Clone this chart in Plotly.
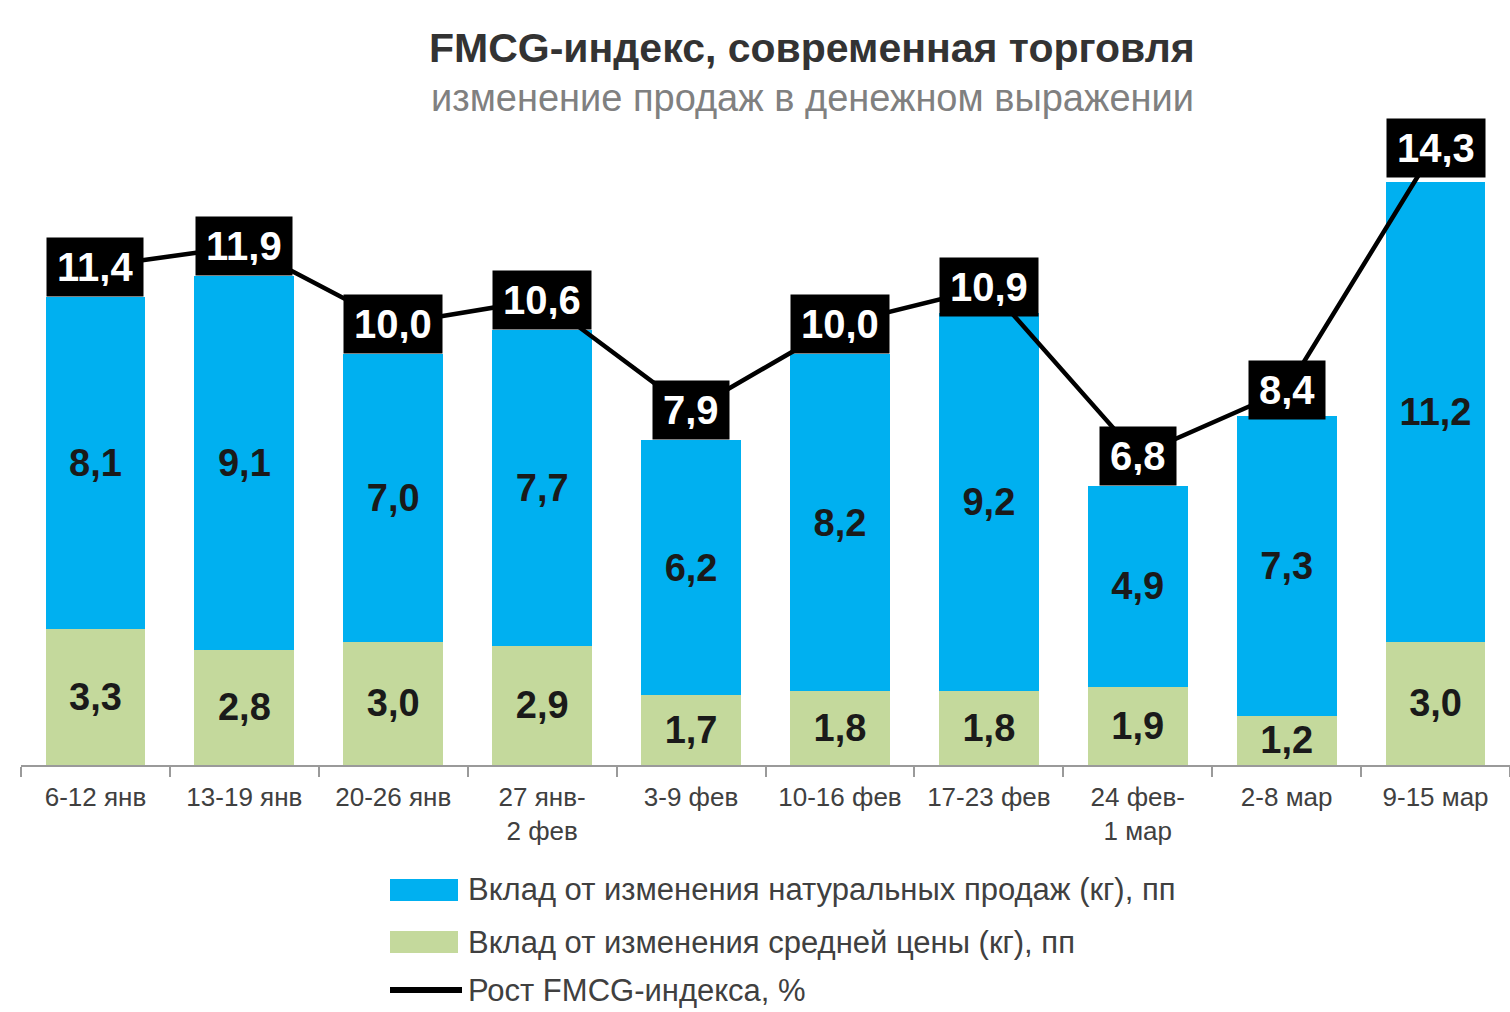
import plotly.graph_objects as go

# ---- data ----
categories = ["6-12 янв", "13-19 янв", "20-26 янв", "27 янв-<br>2 фев", "3-9 фев",
              "10-16 фев", "17-23 фев", "24 фев-<br>1 мар", "2-8 мар", "9-15 мар"]
price_contrib = [3.3, 2.8, 3.0, 2.9, 1.7, 1.8, 1.8, 1.9, 1.2, 3.0]
volume_contrib = [8.1, 9.1, 7.0, 7.7, 6.2, 8.2, 9.2, 4.9, 7.3, 11.2]
index_growth = [11.4, 11.9, 10.0, 10.6, 7.9, 10.0, 10.9, 6.8, 8.4, 14.3]

series_names = ["Вклад от изменения натуральных продаж (кг), пп",
                "Вклад от изменения средней цены (кг), пп",
                "Рост FMCG-индекса, %"]
title_text = "FMCG-индекс, современная торговля"
subtitle_text = "изменение продаж в денежном выражении"

BLUE = "#00B0F0"
GREEN = "#C4D99C"
FONT = "Liberation Sans, Arial, sans-serif"

W, H = 1510, 1012
ML, MR, MT, MB = 21, 0, 120, 247
plot_h = H - MT - MB
plot_w = W - ML - MR
Y_MAX = 15.7
LINE_OFFSET = 0.73


def fmt(v):
    return f"{v:.1f}".replace(".", ",")


def px_x(X):
    return (X - ML) / plot_w


def px_y(Y):
    return (H - MB - Y) / plot_h


fig = go.Figure()

fig.add_trace(go.Bar(
    x=categories, y=price_contrib, name=series_names[1],
    marker=dict(color=GREEN, line=dict(width=0)),
    text=[f"<b>{fmt(v)}</b>" for v in price_contrib], textposition="inside",
    insidetextanchor="middle", textangle=0,
    textfont=dict(family=FONT, size=38, color="#1a1a1a"),
    showlegend=False,
))
fig.add_trace(go.Bar(
    x=categories, y=volume_contrib, name=series_names[0],
    marker=dict(color=BLUE, line=dict(width=0)),
    text=[f"<b>{fmt(v)}</b>" for v in volume_contrib], textposition="inside",
    insidetextanchor="middle", textangle=0,
    textfont=dict(family=FONT, size=38, color="#1a1a1a"),
    showlegend=False,
))
fig.add_trace(go.Scatter(
    x=categories, y=index_growth, name=series_names[2], mode="lines",
    line=dict(color="black", width=4.5), yaxis="y2", showlegend=False,
))

# black value boxes on the line
for c, v in zip(categories, index_growth):
    fig.add_annotation(
        x=c, y=v, xref="x", yref="y2", text=f"<b>{fmt(v)}</b>",
        showarrow=False, bgcolor="black", height=38, borderpad=10,
        font=dict(family=FONT, size=40, color="white"),
        xanchor="center", yanchor="middle",
    )

# titles
fig.add_annotation(x=px_x(812), y=px_y(48), xref="paper", yref="paper",
                   text=f"<b>{title_text}</b>", showarrow=False,
                   font=dict(family=FONT, size=41, color="#333333"),
                   xanchor="center", yanchor="middle")
fig.add_annotation(x=px_x(812), y=px_y(98), xref="paper", yref="paper",
                   text=subtitle_text, showarrow=False,
                   font=dict(family=FONT, size=38, color="#808080"),
                   xanchor="center", yanchor="middle")

# custom legend
legend_rows = [(890, BLUE, "rect", series_names[0]),
               (942, GREEN, "rect", series_names[1]),
               (990, "black", "line", series_names[2])]
for Y, col, kind, label in legend_rows:
    if kind == "rect":
        fig.add_shape(type="rect", xref="paper", yref="paper",
                      x0=px_x(390), x1=px_x(458), y0=px_y(Y - 11), y1=px_y(Y + 11),
                      fillcolor=col, line=dict(width=0))
    else:
        fig.add_shape(type="line", xref="paper", yref="paper",
                      x0=px_x(390), x1=px_x(462), y0=px_y(Y), y1=px_y(Y),
                      line=dict(color=col, width=6))
    fig.add_annotation(x=px_x(466), y=px_y(Y), xref="paper", yref="paper",
                       text=label, showarrow=False,
                       font=dict(family=FONT, size=31, color="#404040"),
                       xanchor="left", yanchor="middle")

fig.update_layout(
    width=W, height=H,
    margin=dict(l=ML, r=MR, t=MT, b=MB),
    paper_bgcolor="white", plot_bgcolor="white",
    barmode="stack", bargap=0.33,
    separators=", ",
    uniformtext=dict(minsize=38, mode="show"),
    font=dict(family=FONT, color="#404040"),
    xaxis=dict(type="category", showline=True, linecolor="#9a9a9a", linewidth=2,
               ticks="outside", tickson="boundaries", ticklen=10, tickwidth=2,
               tickcolor="#9a9a9a", showgrid=False, ticklabelstandoff=8,
               tickfont=dict(family=FONT, size=26, color="#404040")),
    yaxis=dict(range=[0, Y_MAX], visible=False, showgrid=False, zeroline=False),
    yaxis2=dict(range=[-LINE_OFFSET, Y_MAX - LINE_OFFSET], overlaying="y",
                visible=False, showgrid=False, zeroline=False),
)

fig.write_html("out.html")
